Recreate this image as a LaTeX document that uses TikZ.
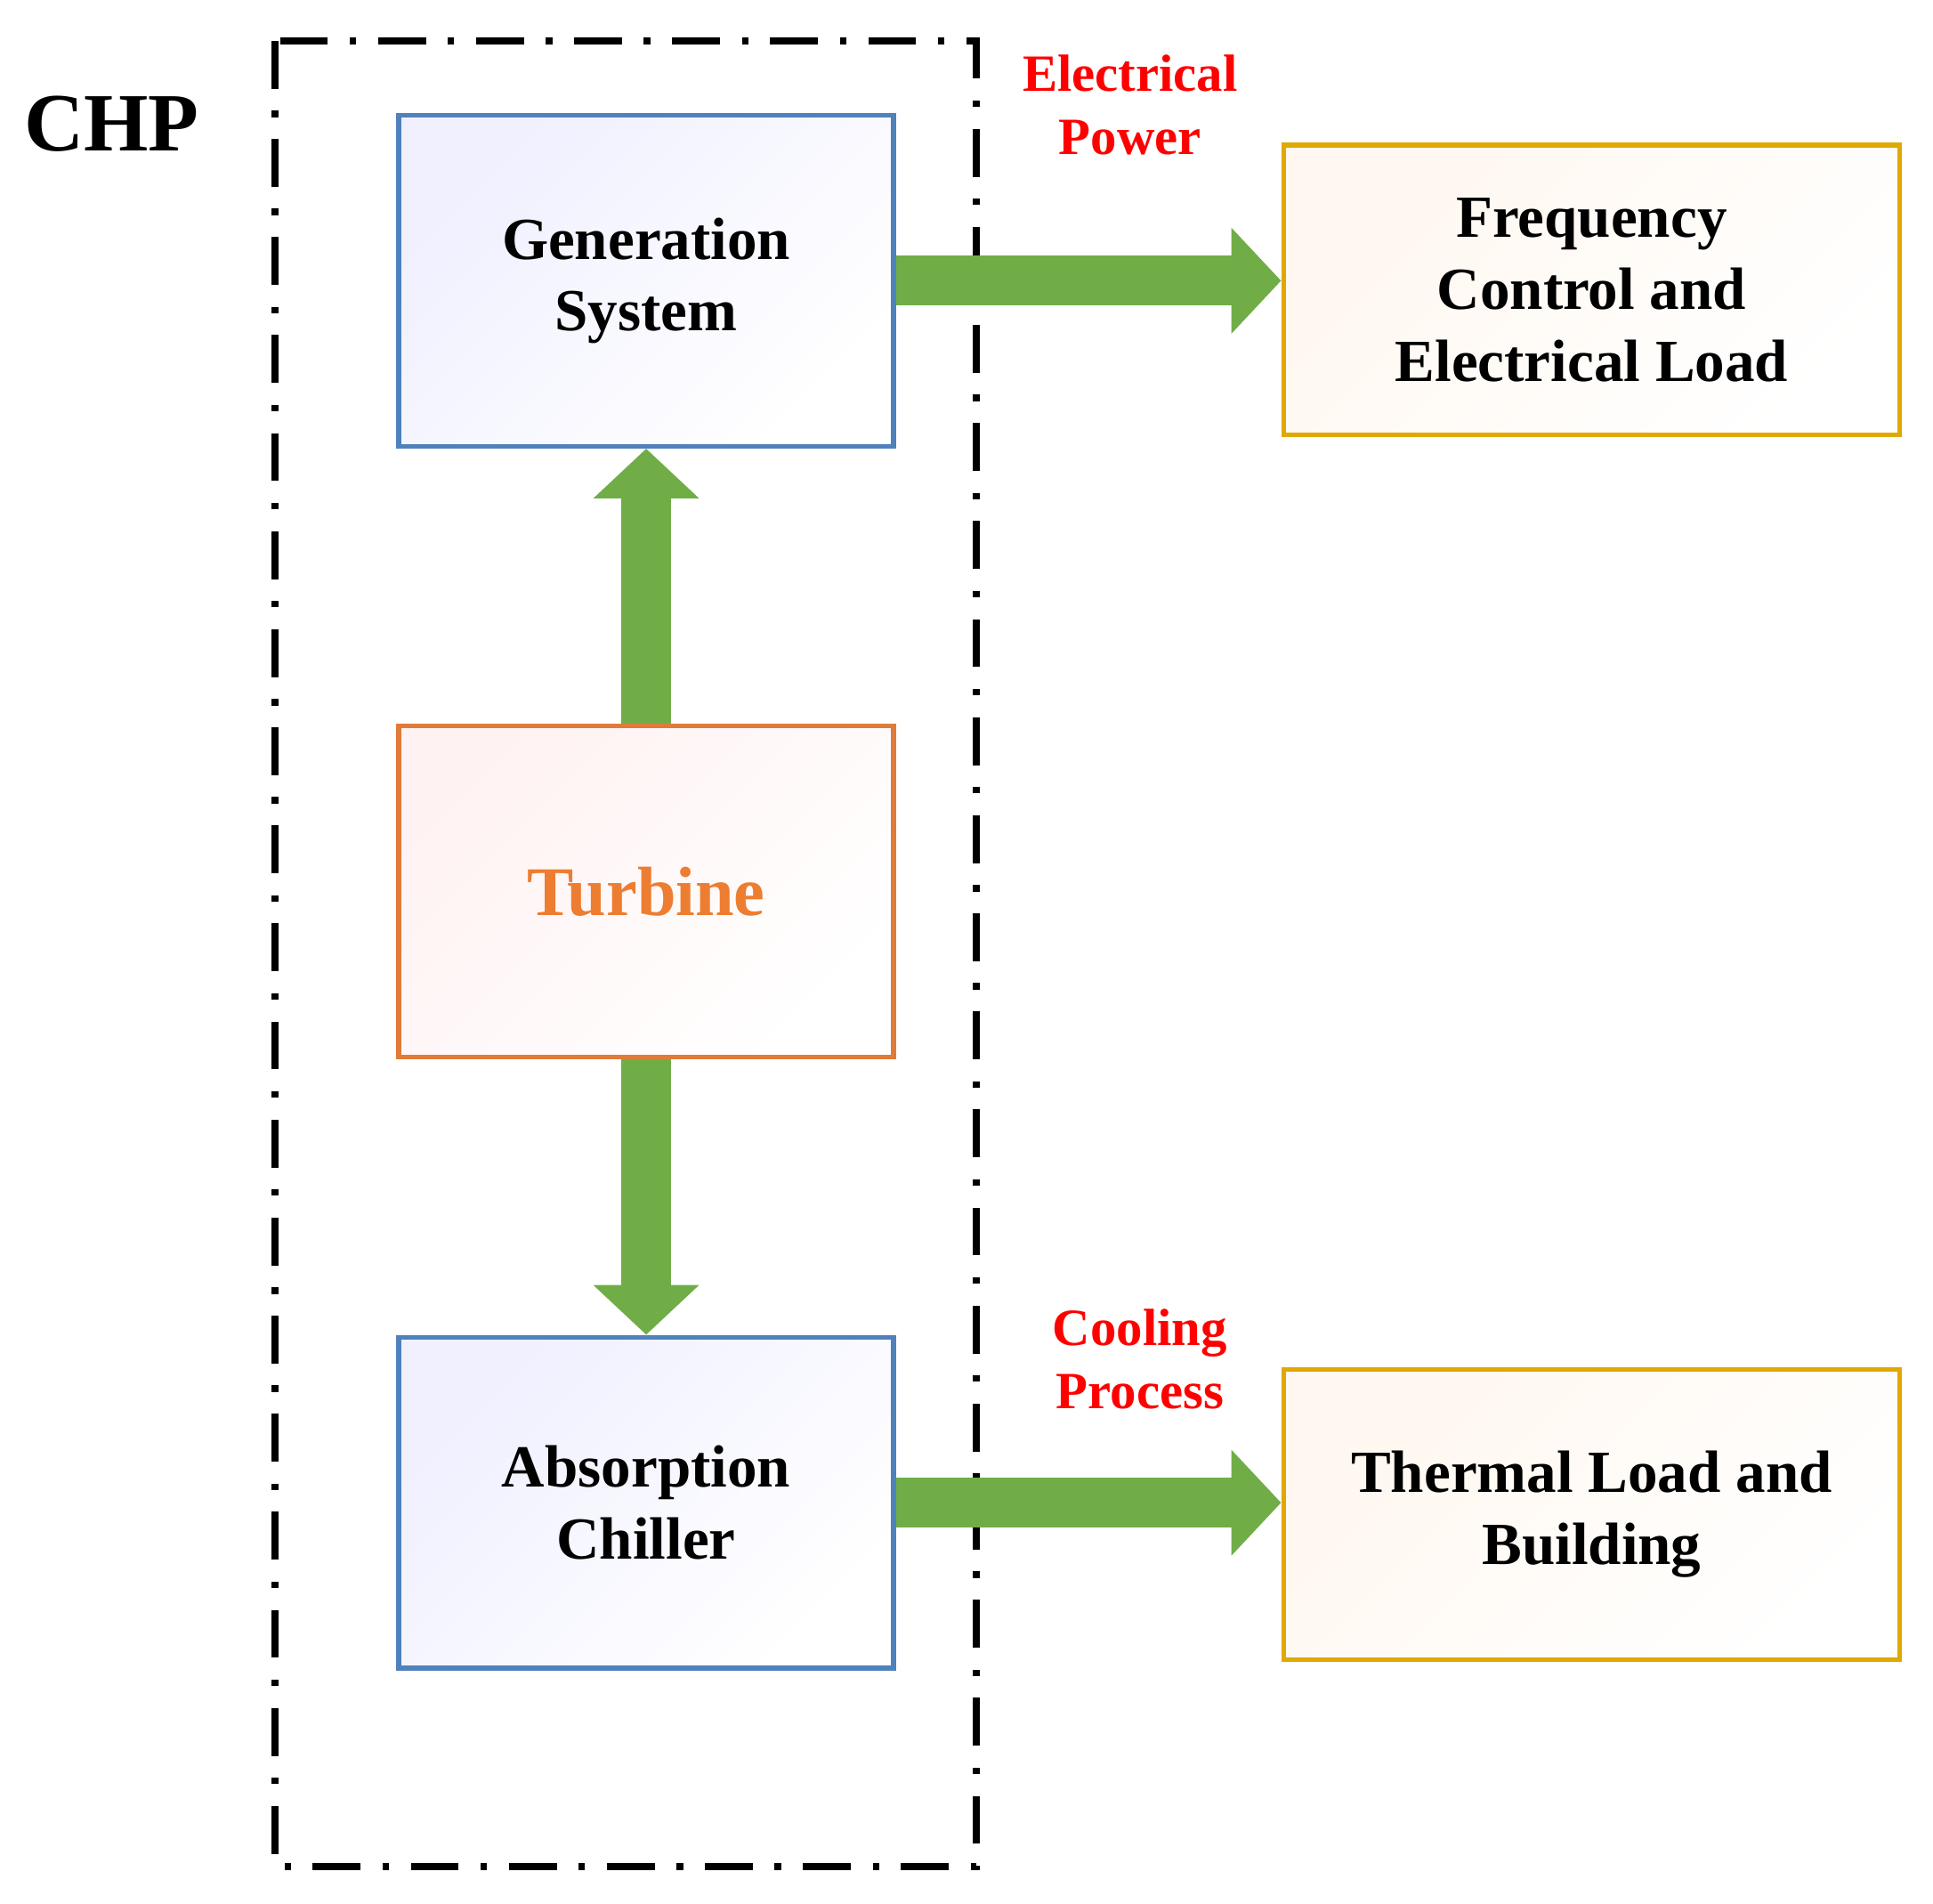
\documentclass[tikz,border=0pt]{standalone}
\usepackage{fontspec}
\setmainfont{Liberation Serif}
\usetikzlibrary{arrows.meta}
\definecolor{gblue}{HTML}{4F81BD}
\definecolor{gor}{HTML}{E07B39}
\definecolor{tor}{HTML}{ED7D31}
\definecolor{ggold}{HTML}{E0A800}
\definecolor{ggreen}{HTML}{70AD47}
\begin{document}
\begin{tikzpicture}[x=0.01cm,y=-0.01cm,
  box/.style={draw, line width=1.1pt, minimum width=3.99cm, minimum height=2.67cm, inner sep=0, align=center, font=\bfseries\fontsize{13.7}{16.5}\selectfont},
  bluebox/.style={box, draw=gblue, shading=axis, left color=blue!6, right color=white, shading angle=45},
  orbox/.style={box, draw=gor, shading=axis, left color=red!5, right color=white, shading angle=45},
  goldbox/.style={box, draw=ggold, minimum width=4.97cm, minimum height=2.34cm, shading=axis, left color=orange!6, right color=white, shading angle=45},
  bigarrow/.style={draw=ggreen, line width=11.4pt, -{Triangle[width=23.6pt,length=11.4pt]}},
  lbl/.style={text=red, align=center, font=\bfseries\fontsize{12}{14.5}\selectfont}]
\useasboundingbox (0,0) rectangle (1560,1536);
\draw[line width=1.6pt, dash pattern=on 11pt off 5pt on 1.5pt off 5pt] (222,33) rectangle (788,1506);
\node[font=\bfseries\fontsize{19}{22}\selectfont] (chp) at (90,100) {CHP};
\node[bluebox] (gen) at (521.5,226.5) {Generation\\System};
\node[orbox, text=tor, font=\bfseries\fontsize{16}{19}\selectfont] (tur) at (521.5,719.5) {Turbine};
\node[bluebox] (abs) at (521.5,1212.5) {Absorption\\Chiller};
\node[goldbox] (freq) at (1284.5,234) {Frequency\\Control and\\Electrical Load};
\node[goldbox] (therm) at (1284.5,1222) {Thermal Load and\\Building};
\node[lbl] (ep) at (912,85) {Electrical\\Power};
\node[lbl] (cp) at (920,1097) {Cooling\\Process};
\draw[bigarrow] (gen.east) coordinate (a1) -- (a1 -| freq.west);
\draw[bigarrow] (abs.east) coordinate (a2) -- (a2 -| therm.west);
\draw[bigarrow] (tur.north) -- (gen.south);
\draw[bigarrow] (tur.south) -- (abs.north);
\end{tikzpicture}
\end{document}
